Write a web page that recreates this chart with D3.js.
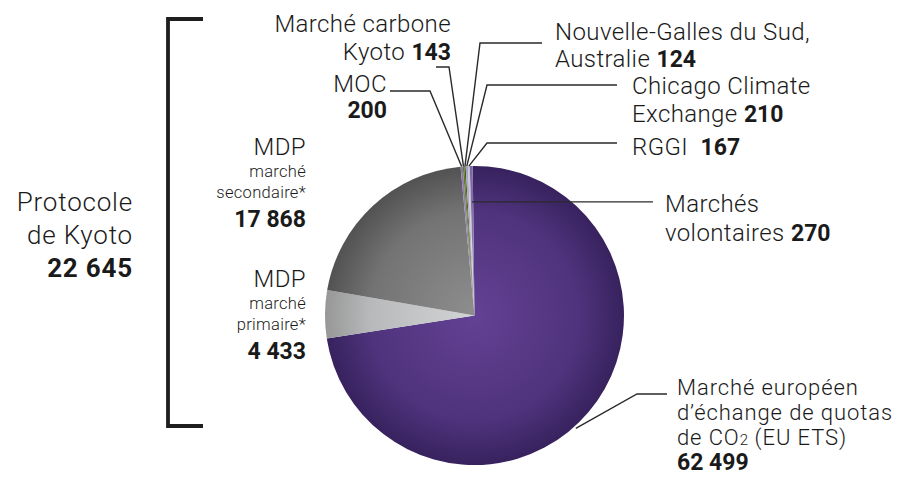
<!DOCTYPE html>
<html>
<head>
<meta charset="utf-8">
<script src="https://cdn.jsdelivr.net/npm/d3@7"></script>
<style>
  body { margin: 0; background: #fff; }
  text { font-family: Roboto, "Liberation Sans", sans-serif; font-weight: 300; fill: #1a1a1a; white-space: pre; }
  .b { font-weight: 700; letter-spacing: 0; }
</style>
</head>
<body>
<svg id="chart"></svg>
<script>
// values in millions of dollars, clockwise from the top of the pie
const categories = ["EU ETS", "MDP primaire", "MDP secondaire", "MOC", "Kyoto", "NSW", "CCX", "RGGI", "Volontaires"];
const values = [62499, 4433, 17868, 200, 143, 124, 210, 167, 270];
const kyotoTotal = 22645;

const w = 905;
const h = 486;
const cx = 474.5;
const cy = 315.5;
const R = 149.5;

const fr = d3.formatLocale({ decimal: ",", thousands: " ", grouping: [3], currency: ["", ""] }).format(",");

// colour pairs: inner, outer
const colors = [
  ["#634194", "#37225e"],
  ["#d2d4d6", "#979797"],
  ["#8e8e8e", "#525252"],
  ["#9d88bd", "#8a75ad"],
  ["#6f8a35", "#5d7a2a"],
  ["#4f6b22", "#445e1c"],
  ["#bdb4cf", "#a99fc0"],
  ["#d8d2e4", "#c6bfd6"],
  ["#8e7bb0", "#7a66a0"],
];

// label text per slice: lines of segments [text, bold?, size]
const labels = [
  { x: 677, ys: [395, 420, 445, 470], size: 22, ls: 0.9, anchor: "start", lines: [[["Marché européen"]], [["d’échange de quotas"]], [["de CO"], ["2", false, 15]], [[fr(values[0]), true]]], tail: [2, " (EU ETS)"] },
  { x: 306, ys: [287, 309, 330, 359], anchor: "end", lines: [[["MDP"]], [["marché", false, 16.5]], [["primaire*", false, 16.5]], [[fr(values[1]), true]]] },
  { x: 306, ys: [155, 177, 198, 227], anchor: "end", lines: [[["MDP"]], [["marché", false, 16.5]], [["secondaire*", false, 16.5]], [[fr(values[2]), true]]] },
  { x: 387, ys: [92, 118], anchor: "end", lines: [[["MOC"]], [[fr(values[3]), true]]] },
  { x: 451, ys: [32, 60], anchor: "end", lines: [[["Marché carbone"]], [["Kyoto "], [fr(values[4]), true]]] },
  { x: 555, ys: [40, 67], anchor: "start", lines: [[["Nouvelle-Galles du Sud,"]], [["Australie "], [fr(values[5]), true]]] },
  { x: 632, ys: [94, 122], anchor: "start", lines: [[["Chicago Climate"]], [["Exchange "], [fr(values[6]), true]]] },
  { x: 632, ys: [155], anchor: "start", lines: [[["RGGI  "], [fr(values[7]), true]]] },
  { x: 665, ys: [212, 241], anchor: "start", lines: [[["Marchés"]], [["volontaires "], [fr(values[8]), true]]] },
];
labels[0].lines[2].push([" (EU ETS)"]);

// leader lines: label end, elbow, then the pie anchor (angle fraction of slice, radius factor)
const leaders = [
  { pts: [[667, 394], [637, 394]], at: 0.53, rf: 1.015 },
  null,
  null,
  { pts: [[390, 91], [430, 91]], at: 0.5, rf: 1.0 },
  { pts: [[436, 67], [449, 67]], at: 0.5, rf: 1.0 },
  { pts: [[542, 43], [480, 43]], at: 0.5, rf: 1.0 },
  { pts: [[617, 85], [487, 85]], at: 0.5, rf: 1.0 },
  { pts: [[617, 143], [487, 143]], at: 0.5, rf: 1.0 },
  { pts: [[653, 202]], at: 0.5, rf: 0.76, flat: true },
];

const svg = d3.select("#chart").attr("width", w).attr("height", h);
const defs = svg.append("defs");

colors.forEach((c, i) => {
  const g = defs.append("radialGradient")
    .attr("id", "grad" + i)
    .attr("gradientUnits", "userSpaceOnUse")
    .attr("cx", 0).attr("cy", 0).attr("r", R);
  g.append("stop").attr("offset", "0%").attr("stop-color", c[0]);
  g.append("stop").attr("offset", "70%").attr("stop-color", d3.interpolateRgb(c[0], c[1])(0.45));
  g.append("stop").attr("offset", "100%").attr("stop-color", c[1]);
});

const start = -0.012;
const pie = d3.pie().sort(null).startAngle(start).endAngle(start + 2 * Math.PI);
const arcs = pie(values);
const arc = d3.arc().innerRadius(0).outerRadius(R);

const pieG = svg.append("g").attr("transform", `translate(${cx},${cy})`);
pieG.selectAll("path")
  .data(arcs)
  .enter()
  .append("path")
  .attr("d", arc)
  .attr("fill", (d, i) => `url(#grad${i})`);

// leader lines
const pt = (a, r) => [cx + r * Math.sin(a), cy - r * Math.cos(a)];
leaders.forEach((l, i) => {
  if (!l) return;
  const d = arcs[i];
  const a = d.startAngle + l.at * (d.endAngle - d.startAngle);
  const anchor = pt(a, R * l.rf);
  let pts = l.pts.slice();
  if (l.flat) pts = [[pts[0][0], anchor[1]], anchor];
  else pts.push(anchor);
  svg.append("path")
    .attr("d", d3.line()(pts))
    .attr("fill", "none")
    .attr("stroke", "#2a2a2a")
    .attr("stroke-width", 1.4);
});

// labels, one text element per line
labels.forEach((lab) => {
  lab.lines.forEach((segs, j) => {
    const t = svg.append("text")
      .attr("x", lab.x)
      .attr("y", lab.ys[j])
      .attr("text-anchor", lab.anchor)
      .style("font-size", (lab.size || 24) + "px")
      .style("letter-spacing", (lab.ls || 0.4) + "px");
    segs.forEach((s) => {
      const ts = t.append("tspan").text(s[0]);
      if (s[1]) ts.attr("class", "b").style("font-size", "23px");
      if (s[2]) ts.style("font-size", s[2] + "px").style("letter-spacing", "0.3px");
    });
  });
});

// Kyoto bracket
svg.append("path")
  .attr("d", "M203,19 H168 V426 H203")
  .attr("fill", "none")
  .attr("stroke", "#1e1e1e")
  .attr("stroke-width", 3.8);

const kyotoLines = [["Protocole", 211, false], ["de Kyoto", 244, false], [fr(kyotoTotal), 277, true]];
kyotoLines.forEach(([txt, y, bold]) => {
  const t = svg.append("text")
    .attr("x", 133)
    .attr("y", y)
    .attr("text-anchor", "end")
    .style("font-size", "26px")
    .style("letter-spacing", "0.8px")
    .text(txt);
  if (bold) t.attr("class", "b");
});
</script>
</body>
</html>
